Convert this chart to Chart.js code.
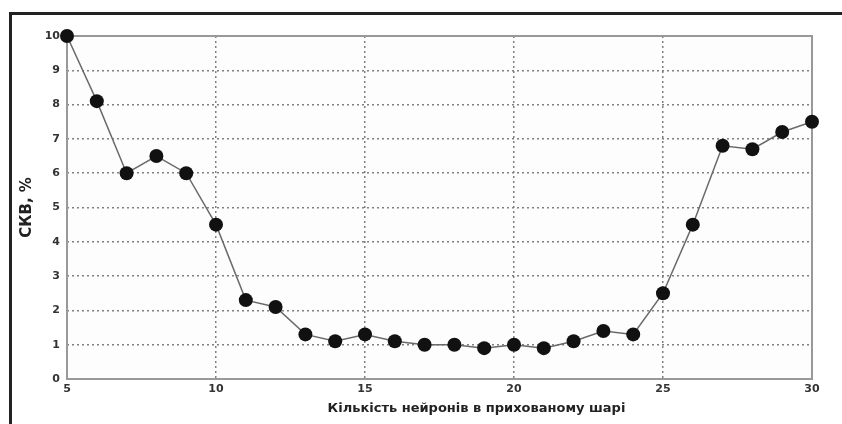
<!DOCTYPE html>
<html>
<head>
<meta charset="utf-8">
<script src="https://cdn.jsdelivr.net/npm/chart.js@4/dist/chart.umd.min.js"></script>
<style>
  body { margin: 0; background: #fff; }
  #wrap { position: relative; width: 842px; height: 424px; }
  #frame { position: absolute; left: 9px; top: 12px; right: 0; bottom: 0;
           border-top: 3px solid #222; border-left: 3px solid #222; pointer-events: none; }
</style>
</head>
<body>
<div id="wrap">
  <canvas id="errChart" width="842" height="424"></canvas>
  <div id="frame"></div>
</div>
<script>
// кількість нейронів у прихованому шарі
const neurons = [5, 6, 7, 8, 9, 10, 11, 12, 13, 14, 15, 16, 17, 18, 19, 20, 21, 22, 23, 24, 25, 26, 27, 28, 29, 30];
// СКВ, %
const rmse = [10, 8.1, 6.0, 6.5, 6.0, 4.5, 2.3, 2.1, 1.3, 1.1, 1.3, 1.1, 1.0, 1.0, 0.9, 1.0, 0.9, 1.1, 1.4, 1.3, 2.5, 4.5, 6.8, 6.7, 7.2, 7.5];
const xTicks = [5, 10, 15, 20, 25, 30];
const yTicks = [0, 1, 2, 3, 4, 5, 6, 7, 8, 9, 10];
const xTitle = 'Кількість нейронів в прихованому шарі';

const fontFamily = "'DejaVu Sans', sans-serif";

// plot background + solid frame round the plot area, and the x title
const plotBox = {
  id: 'plotBox',
  beforeDraw(chart) {
    const { ctx, chartArea: a } = chart;
    ctx.save();
    ctx.fillStyle = '#fdfdfd';
    ctx.fillRect(a.left, a.top, a.right - a.left, a.bottom - a.top);
    ctx.restore();
  },
  beforeDatasetsDraw(chart) {
    const { ctx, chartArea: a } = chart;
    ctx.save();
    ctx.strokeStyle = '#999';
    ctx.lineWidth = 2;
    ctx.strokeRect(a.left, a.top, a.right - a.left, a.bottom - a.top);
    ctx.restore();
  },
  afterDraw(chart) {
    const { ctx, chartArea: a } = chart;
    ctx.save();
    ctx.font = 'bold 13px ' + fontFamily;
    ctx.fillStyle = '#222';
    ctx.textAlign = 'center';
    ctx.textBaseline = 'middle';
    ctx.fillText(xTitle, (a.left + a.right) / 2 + 37, a.bottom + 30);
    ctx.restore();
  }
};

const ctx = document.getElementById('errChart').getContext('2d');
const errChart = new Chart(ctx, {
  type: 'line',
  data: {
    datasets: [{
      data: neurons.map((n, i) => ({ x: n, y: rmse[i] })),
      borderColor: '#6a6a6a',
      borderWidth: 1.5,
      pointRadius: 7,
      pointBackgroundColor: '#111',
      pointBorderColor: '#111',
      pointBorderWidth: 0,
      tension: 0,
      clip: false
    }]
  },
  options: {
    responsive: false,
    animation: false,
    events: [],
    layout: { padding: { left: 0, top: 36, right: 30, bottom: 0 } },
    plugins: {
      legend: { display: false },
      tooltip: { enabled: false }
    },
    scales: {
      x: {
        type: 'linear',
        min: 5,
        max: 30,
        afterFit(scale) { scale.height = 45; },
        afterBuildTicks(scale) { scale.ticks = xTicks.map(v => ({ value: v })); },
        grid: { color: '#808080', lineWidth: 1.5, drawTicks: false },
        border: { display: false, dash: [2, 3] },
        ticks: { padding: 4, color: '#333', font: { family: fontFamily, size: 11, weight: 'bold' } },
        title: { display: false }
      },
      y: {
        min: 0,
        max: 10,
        afterFit(scale) { scale.width = 67; },
        afterBuildTicks(scale) { scale.ticks = yTicks.map(v => ({ value: v })); },
        grid: { color: '#808080', lineWidth: 1.5, drawTicks: false },
        border: { display: false, dash: [2, 3] },
        ticks: { padding: 7, color: '#333', font: { family: fontFamily, size: 11, weight: 'bold' } },
        title: {
          display: true,
          text: 'СКВ, %',
          color: '#222',
          padding: { top: 18, bottom: 0 },
          font: { family: fontFamily, size: 15, weight: 'bold' }
        }
      }
    }
  },
  plugins: [plotBox]
});
</script>
</body>
</html>
